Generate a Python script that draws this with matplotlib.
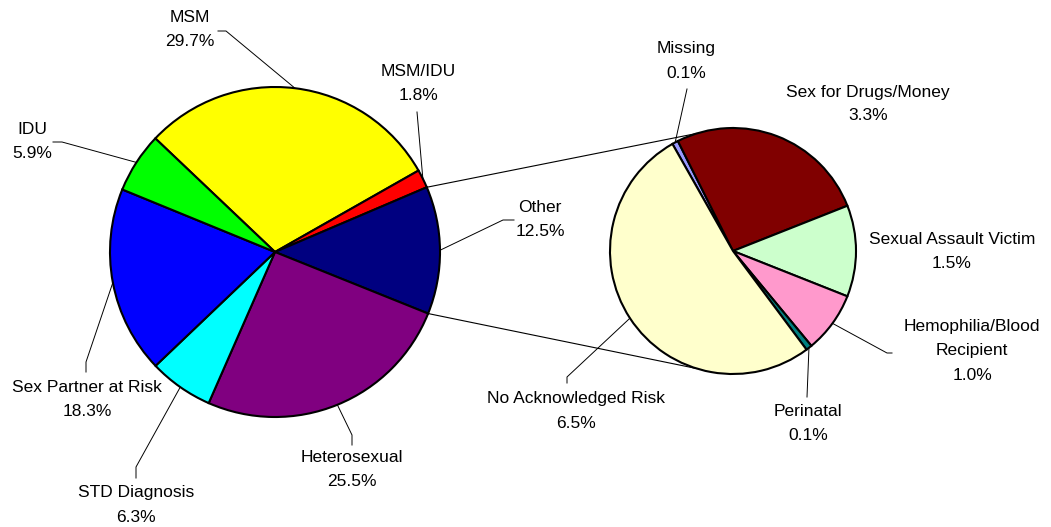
"""
Pie-of-pie chart: exposure categories, with "Other" broken out into a second pie.
"""

import numpy as np
import matplotlib.pyplot as plt

# ── Data ─────────────────────────────────────────────────────────────────────
main_labels = ["MSM", "MSM/IDU", "Other", "Heterosexual",
               "STD Diagnosis", "Sex Partner at Risk", "IDU"]
main_values = [29.7, 1.8, 12.5, 25.5, 6.3, 18.3, 5.9]
main_colors = ["#FFFF00", "#FF0000", "#000080", "#800080",
               "#00FFFF", "#0000FF", "#00FF00"]

other_labels = ["Missing", "Sex for Drugs/Money", "Sexual Assault Victim",
                "Hemophilia/Blood\nRecipient", "Perinatal", "No Acknowledged Risk"]
other_values = [0.1, 3.3, 1.5, 1.0, 0.1, 6.5]
other_colors = ["#9999FF", "#800000", "#CCFFCC", "#FF99CC", "#008080", "#FFFFCC"]

H = 527  # figure height in px, used to flip y so positions read like the picture

plt.rcParams["font.family"] = ["Liberation Sans", "DejaVu Sans"]

fig = plt.figure(figsize=(10.51, 5.27), dpi=100)
ax = fig.add_axes([0, 0, 1, 1])

main_c, main_r = (275, H - 252), 165
sub_c, sub_r = (733, H - 251), 123

wedge_kw = dict(edgecolor="black", linewidth=1.5)
w_main, _ = ax.pie(main_values, colors=main_colors, startangle=136.5,
                   counterclock=False, center=main_c, radius=main_r,
                   wedgeprops=wedge_kw, frame=True)
w_sub, _ = ax.pie(other_values, colors=other_colors, startangle=119.5,
                  counterclock=False, center=sub_c, radius=sub_r,
                  wedgeprops=wedge_kw, frame=True)


def on_circle(c, r, ang):
    a = np.deg2rad(ang)
    return c[0] + r * np.cos(a), c[1] + r * np.sin(a)


# ── Connector lines from "Other" to the second pie ──────────────────────────
other_w = w_main[main_labels.index("Other")]
for edge_ang, sub_ang in [(other_w.theta2, 107), (other_w.theta1, -107)]:
    x0, y0 = on_circle(main_c, main_r, edge_ang)
    x1, y1 = on_circle(sub_c, sub_r, sub_ang)
    ax.plot([x0, x1], [y0, y1], color="black", lw=0.8, zorder=0)

# ── Labels: text centre, leader path (knee points, in picture px) ───────────
main_layout = {
    "MSM":                 ((190, 29), [(226, 31), (218, 31)]),
    "MSM/IDU":             ((418, 84), [(417, 112)]),
    "Other":               ((540, 219), [(503, 220), (514, 220)]),
    "Heterosexual":        ((352, 470), [(352, 435), (352, 445)]),
    "STD Diagnosis":       ((136, 505), [(136, 467), (136, 478)]),
    "Sex Partner at Risk": ((87, 399), [(86, 362), (86, 372)]),
    "IDU":                 ((32, 141), [(62, 142), (53, 142)]),
}
sub_layout = {
    "Missing":                     ((686, 61), [(687, 89)]),
    "Sex for Drugs/Money":         ((868, 104), None),
    "Sexual Assault Victim":       ((952, 251), None),
    "Hemophilia/Blood\nRecipient": ((972, 351), [(887, 353), (892, 353)]),
    "Perinatal":                   ((808, 424), [(807, 397)]),
    "No Acknowledged Risk":        ((576, 411), [(567, 377), (567, 383)]),
}


def place(wedges, labels, values, layout, c, r):
    for w, lab, val in zip(wedges, labels, values):
        (tx, ty), path = layout[lab]
        ax.text(tx, H - ty, f"{lab}\n{val:.1f}%", ha="center", va="center",
                fontsize=12.5, color="black", linespacing=1.75)
        if path:
            mid = (w.theta1 + w.theta2) / 2
            px, py = on_circle(c, r, mid)
            xs = [px] + [p[0] for p in path]
            ys = [py] + [H - p[1] for p in path]
            ax.plot(xs, ys, color="black", lw=0.7)


place(w_main, main_labels, main_values, main_layout, main_c, main_r)
place(w_sub, other_labels, other_values, sub_layout, sub_c, sub_r)

ax.set_xlim(0, 1051)
ax.set_ylim(0, H)
ax.set_aspect("equal")
ax.axis("off")

fig.savefig("out.png", dpi=100)
